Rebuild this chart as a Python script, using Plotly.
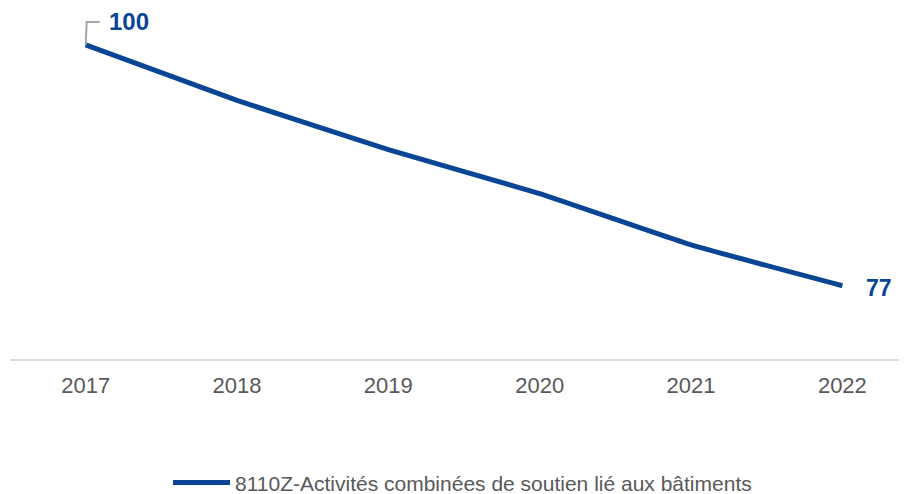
import plotly.graph_objects as go

years = ["2017", "2018", "2019", "2020", "2021", "2022"]
values = [100, 94.7, 90.0, 85.8, 80.9, 77]
series_name = "8110Z-Activités combinées de soutien lié aux bâtiments"

LINE = "#0a4595"
FONT = "Liberation Sans, Arial, sans-serif"

first_i = 0
last_i = len(years) - 1

fig = go.Figure()
fig.add_trace(go.Scatter(
    x=years, y=values, mode="lines", name=series_name,
    line=dict(color=LINE, width=5, shape="spline", smoothing=0.3),
    hoverinfo="x+y",
))

# Leader line for first label (pixel-sized, anchored at first data point)
fig.add_shape(type="path", xref="x", yref="y",
              xsizemode="pixel", ysizemode="pixel",
              xanchor=first_i, yanchor=values[first_i],
              path="M0,0 L1,23 L14,23",
              line=dict(color="#a6a6a6", width=2))

fig.add_annotation(x=first_i, y=values[first_i], text=f"<b>{values[first_i]:.0f}</b>",
                   showarrow=False, xanchor="left", yanchor="middle",
                   xshift=21, yshift=23,
                   font=dict(family=FONT, size=24, color=LINE))
fig.add_annotation(x=last_i, y=values[last_i], text=f"<b>{values[last_i]:.0f}</b>",
                   showarrow=False, xanchor="left", yanchor="middle",
                   xshift=22, yshift=-2,
                   font=dict(family=FONT, size=23, color=LINE))

fig.update_layout(
    width=907, height=494,
    margin=dict(l=2, r=0, t=0, b=143, autoexpand=False),
    paper_bgcolor="white", plot_bgcolor="white",
    font=dict(family=FONT, color="#595959"),
    showlegend=True,
    legend=dict(orientation="h", x=0.5, xanchor="center",
                yref="container", y=0.039, yanchor="middle",
                font=dict(family=FONT, size=21, color="#595959"),
                itemwidth=57),
    xaxis=dict(type="category", range=[-0.5, 5.48], showgrid=False,
               showline=True, linecolor="#d9d9d9", linewidth=2,
               ticks="", tickfont=dict(family=FONT, size=22, color="#595959"),
               ticklabelstandoff=6, zeroline=False),
    yaxis=dict(range=[70, 103.53], visible=False, showgrid=False, zeroline=False),
)

fig.write_html("out.html")
